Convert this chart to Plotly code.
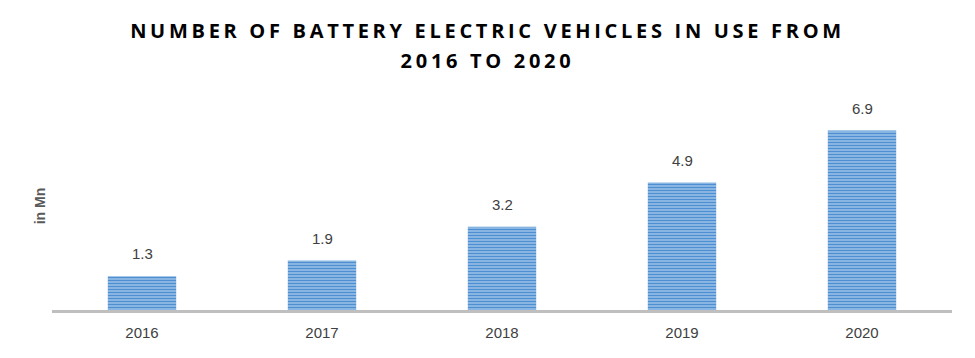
import plotly.graph_objects as go

years = ["2016", "2017", "2018", "2019", "2020"]
values = [1.3, 1.9, 3.2, 4.9, 6.9]
value_labels = ["1.3", "1.9", "3.2", "4.9", "6.9"]

fig = go.Figure()
fig.add_trace(go.Bar(
    x=years, y=values,
    marker=dict(
        color="#b0cfed",
        line=dict(width=0),
        pattern=dict(shape="-", fgcolor="#4d8fd1", bgcolor="#b0cfed", size=3, solidity=0.6, fillmode="replace"),
    ),
    width=0.38,
    hoverinfo="x+y",
))

for i, (v, lab) in enumerate(zip(values, value_labels)):
    fig.add_annotation(
        x=i, y=v, text=lab, showarrow=False,
        xanchor="center", yanchor="bottom", yshift=12,
        font=dict(family="Liberation Sans, Arial", size=15, color="#404040"),
    )

fig.update_layout(
    width=975, height=358,
    margin=dict(l=44, r=31, t=94, b=56),
    paper_bgcolor="white", plot_bgcolor="white",
    showlegend=False,
    title=dict(
        text="<b>NUMBER OF BATTERY ELECTRIC VEHICLES IN USE FROM<br>2016 TO 2020</b>",
        x=0.4918, xanchor="center", y=0.915, yanchor="top",
        font=dict(family="Open Sans", size=20, color="black"),
    ),
    xaxis=dict(
        type="category", range=[-0.5, len(years) - 0.5],
        showline=True, linecolor="#bfbfbf", linewidth=3,
        ticks="", showgrid=False, ticklabelstandoff=7,
        tickfont=dict(family="Liberation Sans, Arial", size=15, color="#404040"),
    ),
    yaxis=dict(
        range=[0, 8], showticklabels=False, showgrid=False, zeroline=False, ticks="",
        title=dict(text="<b>in Mn</b>", standoff=2,
                   font=dict(family="Liberation Sans, Arial", size=14, color="#595959")),
    ),
)

post = """
var t = document.querySelector('.gtitle');
if (t) {
  t.style.letterSpacing = '3.7px';
  var lines = t.querySelectorAll('tspan.line');
  if (lines.length > 1) { lines[1].setAttribute('dy', '1.5em'); }
}
"""
fig.write_html("out.html", post_script=post)
